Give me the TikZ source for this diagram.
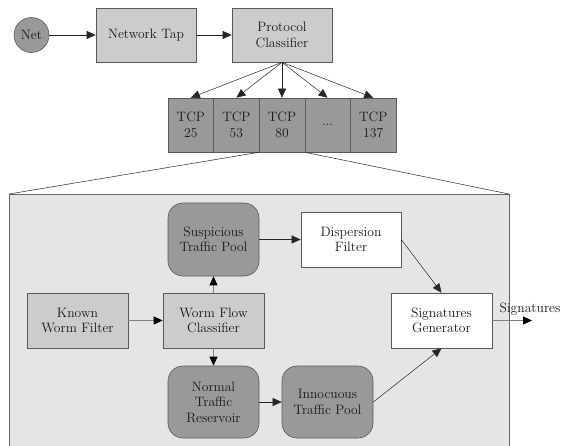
\documentclass[tikz,border=0pt]{standalone}
\usetikzlibrary{arrows.meta}
\begin{document}
\begin{tikzpicture}[x=1pt,y=-1pt,
  every node/.style={font=\fontsize{13.6}{15.5}\selectfont, text=black!90, align=center, inner sep=0pt},
  boxlight/.style={draw=black!65, fill=black!20, minimum width=101pt, minimum height=55pt, line width=0.6pt},
  boxwhite/.style={draw=black!65, fill=white, minimum width=101pt, minimum height=55pt, line width=0.6pt},
  boxtcp/.style={draw=black!65, fill=black!40, minimum width=45.6pt, minimum height=54pt, line width=0.6pt},
  pool/.style={draw=black!65, fill=black!40, rounded corners=15pt, minimum width=91pt, minimum height=73pt, line width=0.6pt},
  arr/.style={-{Triangle[length=9pt,width=8pt]}, draw=black!85, line width=0.5pt},
  garr/.style={-{Triangle[length=9pt,width=8pt,color=black]}, draw=black!50, line width=0.8pt},
  thinline/.style={draw=black!85, line width=0.5pt}]
\useasboundingbox (0,0) rectangle (564,445);
% zoom region
\fill[black!10] (9,446) -- (9,194) -- (509,194) -- (509,446) -- cycle;
\draw[black!60, line width=0.8pt] (9,446) -- (9,194) -- (509,194) -- (509,446);
\coordinate (zl) at (9,194);
\coordinate (zr) at (509,194);
% top row
\node[draw=black!65, fill=black!40, circle, minimum size=35pt, line width=0.6pt] (net) at (31.5,35) {Net};
\node[boxlight, minimum width=100pt, minimum height=54pt] (tap) at (146,35) {Network Tap};
\node[boxlight, minimum width=100pt, minimum height=54pt] (pc) at (282,35) {Protocol\\Classifier};
\node[boxtcp] (t1) at (190.8,125) {TCP\\25};
\node[boxtcp] (t2) at (236.4,125) {TCP\\53};
\node[boxtcp] (t3) at (282,125) {TCP\\80};
\node[boxtcp] (t4) at (327.6,125) {...};
\node[boxtcp] (t5) at (373.2,125) {TCP\\137};
\draw[arr] (net) -- (tap);
\draw[arr] (tap) -- (pc);
\foreach \t in {t1,t2,t3,t4,t5} \draw[arr] (pc.south) -- (\t.north);
\draw[thinline] (t3.south west) -- (zl);
\draw[thinline] (t3.south east) -- (zr);
% inner nodes
\node[boxlight] (known) at (77.5,320.5) {Known\\Worm Filter};
\node[boxlight] (wfc) at (213.5,320.5) {Worm Flow\\Classifier};
\node[pool] (susp) at (213.5,239.5) {Suspicious\\Traffic Pool};
\node[boxwhite, minimum width=100pt] (disp) at (351,239.5) {Dispersion\\Filter};
\node[boxwhite] (sig) at (441.5,320.5) {Signatures\\Generator};
\node[pool, minimum height=72pt] (norm) at (213.5,402) {Normal\\Traffic\\Reservoir};
\node[pool, minimum height=72pt] (inno) at (327.5,402) {Innocuous\\Traffic Pool};
\coordinate (out) at (532,320.5);
\node (siglabel) at (530,309) {Signatures};
\draw[garr] (known) -- (wfc);
\draw[garr] (wfc) -- (susp);
\draw[garr] (wfc) -- (norm);
\draw[arr] (susp) -- (disp);
\draw[arr] (norm) -- (inno);
\draw[arr] (disp.east) -- (sig.north);
\draw[arr] (inno.east) -- (sig.south);
\draw[garr] (sig) -- (out);
\end{tikzpicture}
\end{document}
